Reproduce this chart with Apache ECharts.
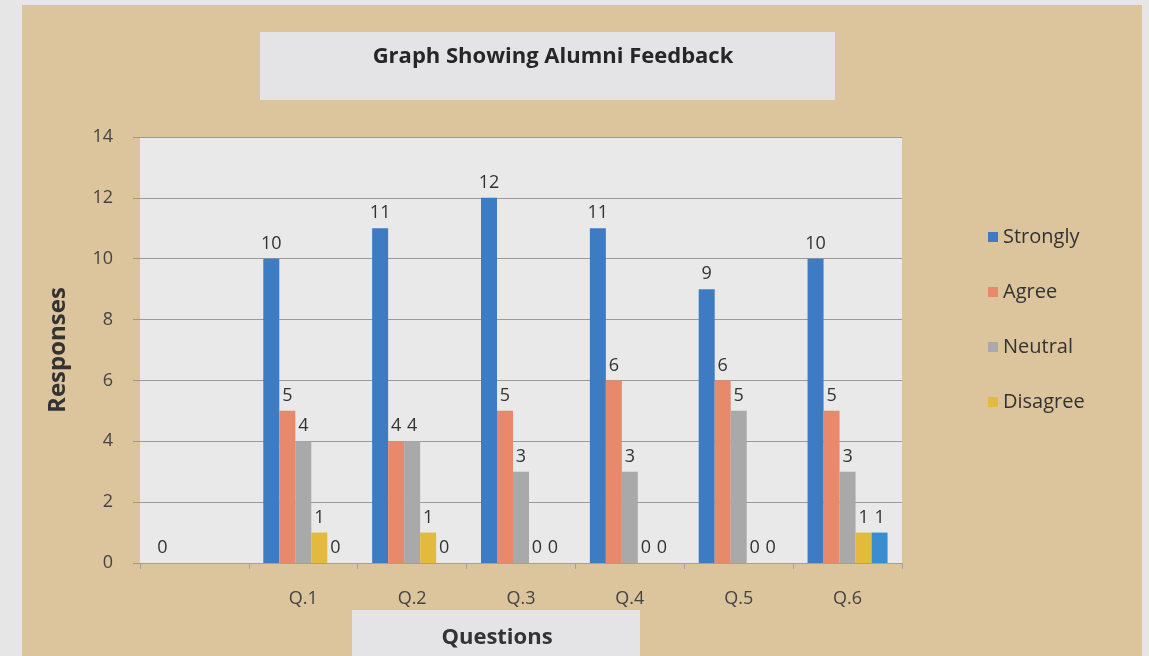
<!DOCTYPE html>
<html>
<head>
<meta charset="utf-8">
<title>Graph Showing Alumni Feedback</title>
<script src="https://cdn.jsdelivr.net/npm/echarts@6/dist/echarts.min.js"></script>
<style>
  html, body { margin: 0; padding: 0; background: #e6e6e6; }
  #chart { width: 1149px; height: 656px; }
</style>
</head>
<body>
<div id="chart"></div>
<script>
// categories (first one is blank in the original sheet)
const questions = ['', 'Q.1', 'Q.2', 'Q.3', 'Q.4', 'Q.5', 'Q.6'];

// responses per answer type
const strongly = [0, 10, 11, 12, 11, 9, 10];
const agree = [null, 5, 4, 5, 6, 6, 5];
const neutral = [null, 4, 4, 3, 3, 5, 3];
const disagree = [null, 1, 1, 0, 0, 0, 1];
const stronglyDisagree = [null, 0, 0, 0, 0, 0, 1]; // not shown in legend

const yTicks = { min: 0, max: 14, interval: 2 };

const chart = echarts.init(document.getElementById('chart'));

const font = '"Open Sans", "Liberation Sans", sans-serif';

const makeBar = (name, data, color) => ({
  name: name,
  type: 'bar',
  data: data,
  barWidth: 16,
  barGap: '0%',
  itemStyle: { color: color },
  label: {
    show: true,
    position: 'top',
    distance: 6,
    color: '#333',
    fontSize: 18,
    fontFamily: font,
  },
});

const option = {
  backgroundColor: 'transparent',
  textStyle: { fontFamily: font },
  graphic: [
    // tan paper
    { type: 'rect', z: -20, shape: { x: 22, y: 5, width: 1120, height: 660 }, style: { fill: '#dcc49d' } },
    // title box
    { type: 'rect', z: -10, shape: { x: 260, y: 32, width: 575, height: 68 }, style: { fill: '#e4e4e6' } },
    // x axis name box + text
    { type: 'rect', z: -10, shape: { x: 352, y: 610, width: 288, height: 50 }, style: { fill: '#e4e4e6' } },
    {
      type: 'text', z: 10, x: 497, y: 638,
      style: {
        text: 'Questions', fill: '#333', font: 'bold 22px ' + font,
        textAlign: 'center', textVerticalAlign: 'middle',
      },
    },
  ],
  title: {
    text: 'Graph Showing Alumni Feedback',
    left: 548,
    top: 41,
    textAlign: 'center',
    textStyle: { fontSize: 22, fontWeight: 'bold', color: '#262626', fontFamily: font },
  },
  legend: {
    orient: 'vertical',
    left: 983,
    top: 222,
    itemGap: 35,
    itemWidth: 10,
    itemHeight: 10,
    icon: 'rect',
    data: ['Strongly', 'Agree', 'Neutral', 'Disagree'],
    textStyle: { fontSize: 20, color: '#333', fontFamily: font },
  },
  grid: {
    left: 140,
    right: 247,
    top: 137,
    bottom: 93,
    outerBoundsMode: 'none',
    show: true,
    backgroundColor: '#e9e9e9',
    borderWidth: 0,
  },
  xAxis: {
    type: 'category',
    data: questions,
    axisLine: { lineStyle: { color: '#a0a0a0' } },
    axisTick: { show: true, length: 6, lineStyle: { color: '#a0a0a0' } },
    axisLabel: { fontSize: 18, color: '#444', margin: 27, fontFamily: font },
  },
  yAxis: {
    type: 'value',
    min: yTicks.min,
    max: yTicks.max,
    interval: yTicks.interval,
    name: 'Responses',
    nameLocation: 'middle',
    nameGap: 70,
    nameTextStyle: { fontSize: 24, fontWeight: 'bold', color: '#333', fontFamily: font },
    axisLine: { show: false },
    axisTick: { show: true, length: 7, lineStyle: { color: '#9a9a9a' } },
    axisLabel: { fontSize: 18, color: '#444', margin: 27, fontFamily: font },
    splitLine: { lineStyle: { color: '#9a9a9a', width: 1 } },
  },
  series: [
    makeBar('Strongly', strongly, '#3d7cc2'),
    makeBar('Agree', agree, '#e8896b'),
    makeBar('Neutral', neutral, '#a9a9a9'),
    makeBar('Disagree', disagree, '#e2bb3e'),
    makeBar('Strongly Disagree', stronglyDisagree, '#3a8ecf'),
  ],
};

chart.setOption(option);
window.addEventListener('resize', () => chart.resize());
</script>
</body>
</html>
